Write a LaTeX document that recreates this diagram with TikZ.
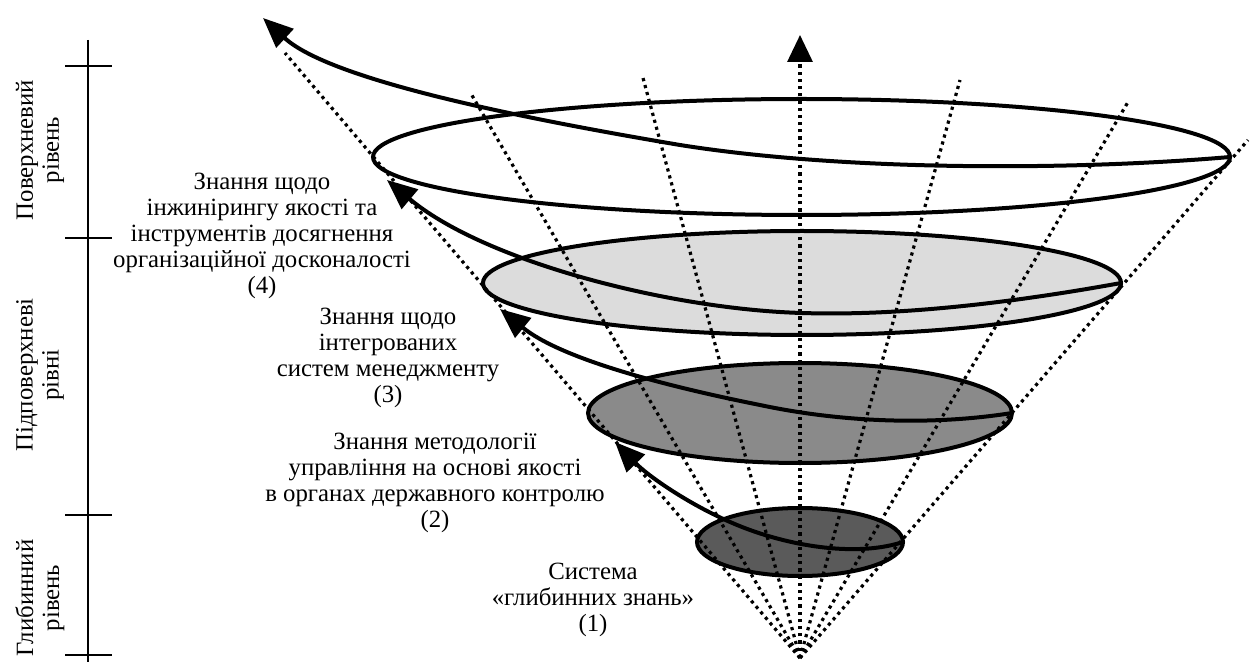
\documentclass[tikz,border=0pt]{standalone}
\usepackage{fontspec}
\setmainfont{Liberation Serif}
\usetikzlibrary{arrows.meta}
\definecolor{gDark}{HTML}{5A5A5A}
\definecolor{gMid}{HTML}{8A8A8A}
\definecolor{gLight}{HTML}{DCDCDC}
\begin{document}
\begin{tikzpicture}[x=0.5pt,y=-0.5pt,
  ring/.style={draw=black,line width=2pt},
  ray/.style={line width=1.6pt,dash pattern=on 1.6pt off 2.0pt},
  spiral/.style={line width=2pt,-{Triangle[length=15pt,width=12.5pt]}},
  lbl/.style={align=center,font=\fontsize{12.4}{13}\selectfont,inner sep=0pt},
  axisline/.style={line width=1pt},
  lvl/.style={align=center,rotate=90,font=\fontsize{12.4}{13}\selectfont,inner sep=0pt}]
\useasboundingbox (0,0) rectangle (1251,662);

% ellipses
\draw[ring,fill=gDark] (800,542) ellipse [x radius=103, y radius=34];
\draw[ring,fill=gMid] (800,413) ellipse [x radius=212, y radius=50];
\draw[ring,fill=gLight] (802,283) ellipse [x radius=319, y radius=52];
\draw[ring,fill=white] (801.5,157) ellipse [x radius=428.5, y radius=58];

% key coordinates
\coordinate (apex) at (800,658);
\coordinate (e1r) at (903,542);
\coordinate (e2r) at (1012,413);
\coordinate (e3r) at (1121,283);
\coordinate (e4r) at (1230,157);
\coordinate (t2) at (615,442);
\coordinate (t3) at (500,309);
\coordinate (t4) at (387,180);
\coordinate (t5) at (263,18);

% rays
\draw[ray] (apex) -- (285,53);
\draw[ray] (apex) -- (470,92);
\draw[ray] (apex) -- (643,78);
\draw[ray,-{Triangle[length=13.5pt,width=12.5pt]}] (apex) -- (800,35);
\draw[ray] (apex) -- (960,80);
\draw[ray] (apex) -- (1128,102);
\draw[ray] (apex) -- (1248,140);

% spiral
\draw[spiral] (e1r) .. controls (860,556) and (800,548) .. (750,530) .. controls (700,512) and (650,478) .. (t2);
\draw[spiral] (e2r) .. controls (930,426) and (840,422) .. (760,405) .. controls (660,385) and (560,358) .. (t3);
\draw[spiral] (e3r) .. controls (1000,305) and (880,318) .. (780,312) .. controls (650,304) and (480,258) .. (t4);
\draw[spiral] (e4r) .. controls (1080,170) and (850,172) .. (680,145) .. controls (520,118) and (330,80) .. (t5);

% axis
\draw[axisline] (88,40) -- (88,662);
\draw[axisline] (65,66) -- (112,66);
\draw[axisline] (65,238) -- (112,238);
\draw[axisline] (65,515) -- (112,515);
\draw[axisline] (65,655) -- (112,655);

\node[lvl] (l1) at (40,150) {Поверхневий\\рівень};
\node[lvl] (l2) at (40,375) {Підповерхневі\\рівні};
\node[lvl] (l3) at (40,598) {Глибинний\\рівень};

% texts
\node[lbl] (k4) at (262,236) {Знання щодо\\інжинірингу якості та\\інструментів досягнення\\організаційної досконалості\\(4)};
\node[lbl] (k3) at (388,358) {Знання щодо\\інтегрованих\\систем менеджменту\\(3)};
\node[lbl] (k2) at (435,483) {Знання методології\\управління на основі якості\\в органах державного контролю\\(2)};
\node[lbl] (k1) at (593,600) {Система\\«глибинних знань»\\(1)};
\end{tikzpicture}
\end{document}
